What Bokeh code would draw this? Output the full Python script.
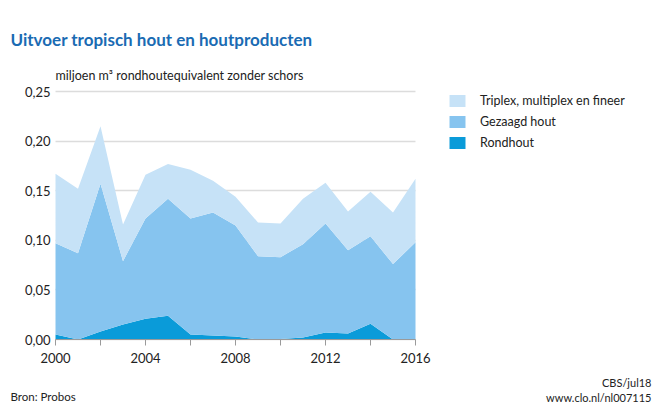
from bokeh.plotting import figure
from bokeh.models import (ColumnDataSource, Range1d, FixedTicker, CustomJSTickFormatter,
                          Legend, LegendItem, Label)
from bokeh.embed import file_html
from bokeh.resources import INLINE

years = list(range(2000, 2017))
rondhout = [0.005, 0.0, 0.008, 0.015, 0.021, 0.024, 0.005, 0.004, 0.003, 0.0,
            0.0005, 0.002, 0.007, 0.006, 0.016, 0.0, 0.0]
gezaagd = [0.092, 0.087, 0.149, 0.064, 0.101, 0.118, 0.117, 0.124, 0.112, 0.084,
           0.0825, 0.094, 0.110, 0.084, 0.088, 0.076, 0.098]
triplex = [0.070, 0.065, 0.058, 0.037, 0.044, 0.035, 0.049, 0.032, 0.029, 0.034,
           0.034, 0.046, 0.041, 0.039, 0.045, 0.052, 0.064]
series_names = ["Rondhout", "Gezaagd hout", "Triplex, multiplex en fineer"]
colors = ["#0a9bd9", "#86c4ef", "#c6e2f7"]
x_ticks = list(range(2000, 2017, 2))
x_labels = ["2000", "", "2004", "", "2008", "", "2012", "", "2016"]
y_ticks = [0, 0.05, 0.10, 0.15, 0.20, 0.25]

FONT = "Lato"
TXT = "#222222"
W, H = 660, 407
# plot area in page pixels
PL, PR, PT, PB = 55, 415, 91, 339
X0, X1 = years[0], years[-1]
Y0, Y1 = 0.0, 0.25
sx = (PR - PL) / (X1 - X0)
sy = (PB - PT) / (Y1 - Y0)

src = ColumnDataSource(dict(year=years, r=rondhout, g=gezaagd, t=triplex))

# the frame covers the whole page; the ranges are extended so that the data
# area sits at the right place, and the axes are fixed at x=2000 / y=0
p = figure(width=W, height=H, output_backend="svg", toolbar_location=None,
           x_range=Range1d(X0 - PL / sx, X1 + (W - PR) / sx),
           y_range=Range1d(Y0 - (H - PB) / sy, Y1 + PT / sy),
           min_border=0, min_border_left=0, min_border_right=0,
           min_border_top=0, min_border_bottom=0)
p.outline_line_color = None

rs = p.varea_stack(stackers=["r", "g", "t"], x="year", color=colors, source=src)

p.xaxis.fixed_location = Y0
p.xaxis.bounds = (X0, X1)
p.xaxis.ticker = FixedTicker(ticks=x_ticks)
p.xaxis.major_label_overrides = {t: l for t, l in zip(x_ticks, x_labels)}
p.xaxis.minor_tick_line_color = None
p.xaxis.axis_line_color = "#9a9a9a"
p.xaxis.major_tick_line_color = "#9a9a9a"
p.xaxis.major_tick_in = 0
p.xaxis.major_tick_out = 6
p.xaxis.major_label_text_font = FONT
p.xaxis.major_label_text_font_size = "13px"
p.xaxis.major_label_text_color = TXT
p.xaxis.major_label_standoff = 7

p.yaxis.fixed_location = X0
p.yaxis.bounds = (Y0, Y1)
p.yaxis.ticker = FixedTicker(ticks=y_ticks)
p.yaxis.formatter = CustomJSTickFormatter(code="return tick.toFixed(2).replace('.', ',');")
p.yaxis.axis_line_color = None
p.yaxis.major_tick_line_color = None
p.yaxis.minor_tick_line_color = None
p.yaxis.major_tick_out = 0
p.yaxis.major_label_text_font = FONT
p.yaxis.major_label_text_font_size = "13px"
p.yaxis.major_label_text_color = TXT
p.yaxis.major_label_standoff = 5

p.xgrid.grid_line_color = None
p.ygrid.grid_line_color = "#dcdcdc"
p.ygrid.grid_line_width = 1.5
try:
    p.ygrid.cross_bounds = (X0, X1)
    p.ygrid.bounds = (Y0 + 0.01, Y1)
except Exception:
    p.ygrid.grid_line_color = None
    gy = [t for t in y_ticks if t > 0]
    p.segment(x0=[X0] * len(gy), x1=[X1] * len(gy), y0=gy, y1=gy,
              line_color="#dcdcdc", line_width=1.5, level="underlay")

legend = Legend(items=[LegendItem(label=series_names[i], renderers=[rs[i]]) for i in (2, 1, 0)],
                location=(447, H - 88 - 62), orientation="vertical")
legend.label_text_font = FONT
legend.label_text_font_size = "12.5px"
legend.label_text_color = TXT
legend.glyph_width = 20
legend.glyph_height = 15
legend.label_height = 15
legend.label_standoff = 13
legend.spacing = 6
legend.padding = 0
legend.margin = 0
legend.border_line_color = None
legend.background_fill_alpha = 0
p.add_layout(legend, "center")


def add_text(text, x, y, size, color=TXT, bold=False, align="left"):
    # x, y in page pixels from the top-left
    p.add_layout(Label(x=x, y=H - y, x_units="screen", y_units="screen", text=text,
                       text_font=FONT, text_font_size=size, text_color=color,
                       text_font_style="bold" if bold else "normal",
                       text_align=align, text_baseline="middle"))


add_text("Uitvoer tropisch hout en houtproducten", 10, 39, "17px", color="#1a6bb3", bold=True)
add_text("miljoen m³ rondhoutequivalent zonder schors", 55, 75, "12.5px")
add_text("Bron: Probos", 10, 396, "11.5px")
add_text("CBS/jul18", 651, 382, "11px", align="right")
add_text("www.clo.nl/nl007115", 651, 397, "11px", align="right")

open("out.html", "w").write(file_html(p, INLINE))
